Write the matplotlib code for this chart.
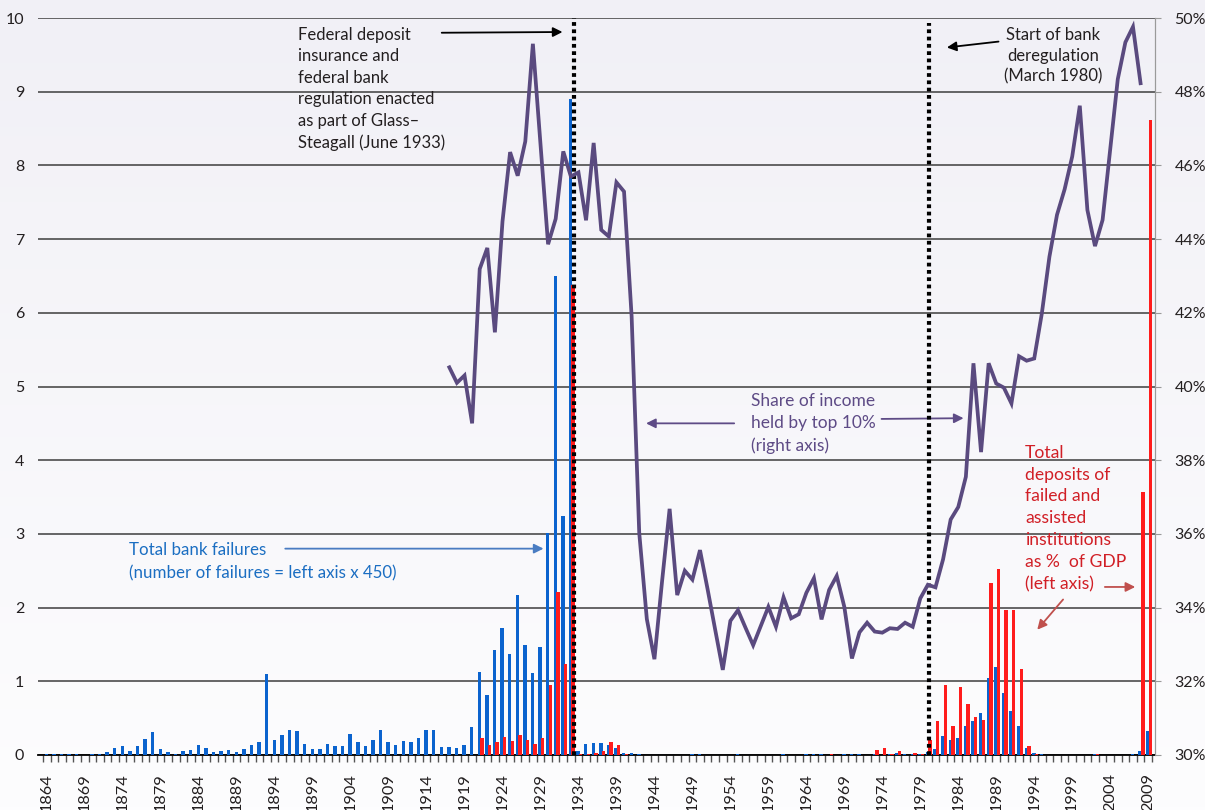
import numpy as np
import matplotlib
matplotlib.use('Agg')
import matplotlib.pyplot as plt
from matplotlib.colors import LinearSegmentedColormap

# years on the category axis
years = list(range(1864, 2010))

# total bank failures, in left axis units (number of failures / 450)
failures = [
    0.01, 0.01, 0.01, 0.02, 0.01, 0.005, 0.01, 0.02, 0.04, 0.09,      # 1864-1873
    0.12, 0.06, 0.12, 0.22, 0.31, 0.08, 0.04, 0.02, 0.05, 0.07,       # 1874-1883
    0.14, 0.10, 0.04, 0.05, 0.07, 0.04, 0.08, 0.14, 0.18, 1.10,       # 1884-1893
    0.20, 0.27, 0.34, 0.32, 0.15, 0.08, 0.08, 0.15, 0.12, 0.12,       # 1894-1903
    0.28, 0.17, 0.12, 0.20, 0.34, 0.17, 0.14, 0.19, 0.17, 0.235,      # 1904-1913
    0.34, 0.34, 0.11, 0.11, 0.10, 0.14, 0.375, 1.12, 0.81, 1.43,      # 1914-1923
    1.72, 1.37, 2.17, 1.49, 1.11, 1.47, 3.01, 6.50, 3.24, 8.90,       # 1924-1933
    0.05, 0.15, 0.16, 0.16, 0.13, 0.09, 0.03, 0.03, 0.01, 0.005,      # 1934-1943
    0.005, 0.002, 0.005, 0.005, 0.005, 0.01, 0.01, 0.005, 0.005, 0.005,  # 1944-1953
    0.005, 0.01, 0.005, 0.005, 0.005, 0.005, 0.005, 0.01, 0.005, 0.005,  # 1954-1963
    0.01, 0.01, 0.01, 0.005, 0.005, 0.01, 0.01, 0.01, 0.002, 0.01,    # 1964-1973
    0.005, 0.02, 0.03, 0.01, 0.01, 0.02, 0.04, 0.08, 0.26, 0.21,      # 1974-1983
    0.23, 0.40, 0.455, 0.575, 1.04, 1.19, 0.84, 0.595, 0.40, 0.10,    # 1984-1993
    0.03, 0.01, 0.005, 0.002, 0.005, 0.005, 0.005, 0.005, 0.01, 0.005,   # 1994-2003
    0.005, 0.0, 0.0, 0.01, 0.06, 0.32,                                # 2004-2009
]

# total deposits of failed and assisted institutions, % of GDP (left axis)
deposits = [0.0] * 57 + [
    0.235, 0.13, 0.18, 0.245, 0.185, 0.27, 0.21, 0.15, 0.23,           # 1921-1929
    0.955, 2.21, 1.24, 6.38, 0.01, 0.02, 0.03, 0.06, 0.17, 0.14,       # 1930-1939
    0.01, 0.005, 0.003, 0.003, 0.003, 0.002, 0.003, 0.003, 0.003, 0.003,  # 1940-1949
    0.003, 0.003, 0.003, 0.003, 0.003, 0.003, 0.003, 0.003, 0.003, 0.003,  # 1950-1959
    0.003, 0.003, 0.003, 0.003, 0.003, 0.003, 0.003, 0.01, 0.003, 0.003,  # 1960-1969
    0.003, 0.003, 0.003, 0.065, 0.10, 0.01, 0.055, 0.005, 0.03, 0.02,  # 1970-1979
    0.21, 0.455, 0.955, 0.40, 0.92, 0.69, 0.52, 0.48, 2.33, 2.52,      # 1980-1989
    1.97, 1.97, 1.17, 0.12, 0.01, 0.005, 0.003, 0.003, 0.003, 0.005,   # 1990-1999
    0.003, 0.005, 0.01, 0.003, 0.003, 0.002, 0.002, 0.005, 3.57, 8.61,  # 2000-2009
]

# share of income held by top 10%, % (right axis)
share_years = list(range(1917, 2009))
top10_share = [
    40.52, 40.10, 40.30, 39.00, 43.19, 43.76, 41.47, 44.48, 46.36, 45.72,  # 1917-1926
    46.65, 49.30, 46.58, 43.86, 44.55, 46.38, 45.70, 45.81, 44.51, 46.61,  # 1927-1936
    44.25, 44.07, 45.54, 45.29, 41.90, 36.03, 33.69, 32.60, 34.70, 36.68,  # 1937-1946
    34.34, 35.00, 34.76, 35.56, 34.50, 33.40, 32.31, 33.64, 33.93, 33.45,  # 1947-1956
    32.98, 33.50, 34.02, 33.48, 34.28, 33.71, 33.82, 34.40, 34.80, 33.68,  # 1957-1966
    34.48, 34.86, 34.02, 32.62, 33.33, 33.59, 33.35, 33.32, 33.44, 33.42,  # 1967-1976
    33.59, 33.48, 34.25, 34.62, 34.55, 35.31, 36.39, 36.73, 37.55, 40.63,  # 1977-1986
    38.22, 40.63, 40.08, 39.97, 39.54, 40.82, 40.70, 40.76, 41.98, 43.52,  # 1987-1996
    44.66, 45.35, 46.24, 47.62, 44.79, 43.81, 44.52, 46.43, 48.34, 49.34,  # 1997-2006
    49.76, 48.23,                                                          # 2007-2008
]

BLUE = '#0b63ce'
RED = '#ff1c1c'
PURPLE = '#5a4a7f'
TEXT = '#231f20'

plt.rcParams['font.family'] = ['Lato', 'DejaVu Sans']

fig = plt.figure(figsize=(12.05, 8.10), dpi=100)

# soft background gradient
bg = fig.add_axes([0, 0, 1, 1], zorder=-10)
grad = np.linspace(0, 1, 256).reshape(-1, 1)
bg.imshow(grad, aspect='auto', extent=[0, 1, 0, 1],
          cmap=LinearSegmentedColormap.from_list('bg', ['#f1f0f6', '#fdfdfe']))
bg.axis('off')

ax = fig.add_axes([38 / 1205, 1 - 755 / 810, (1155 - 38) / 1205, (755 - 18) / 810])
ax.patch.set_alpha(0)

x = np.arange(len(years))
ax.bar(x - 0.05, failures, width=0.45, color=BLUE, zorder=3)
ax.bar(x + 0.3, deposits, width=0.45, color=RED, zorder=4)

ax.set_xlim(-1.15, 145.9)
ax.set_ylim(0, 10)
ax.set_yticks(range(0, 11))
ax.grid(axis='y', color='#3d3d3d', lw=1.1, zorder=1)
ax.tick_params(axis='y', length=0, pad=10, labelsize=11.5, labelcolor=TEXT)

ax.set_xticks(x[::5])
ax.set_xticklabels([str(y) for y in years[::5]], rotation=90)
ax.set_xticks(np.arange(len(years) + 1) - 0.5, minor=True)
ax.tick_params(axis='x', which='major', length=0, pad=13, labelsize=11.8, labelcolor=TEXT)
ax.tick_params(axis='x', which='minor', length=5, width=1, color='#555555')

for s in ['top', 'left']:
    ax.spines[s].set_visible(False)
ax.spines['bottom'].set_color('black')
ax.spines['bottom'].set_linewidth(1.3)
ax.spines['right'].set_color('#9a9a9a')

# policy dates
ax.plot([69.4, 69.4], [0, 10], color='black', lw=3, ls=(0, (0.9, 0.85)), zorder=6)
ax.plot([116.1, 116.1], [0, 9.93], color='black', lw=3, ls=(0, (0.9, 0.85)), zorder=6)

# income share on the right axis
ax2 = ax.twinx()
ax2.set_ylim(30, 50)
ax2.set_yticks(range(30, 51, 2))
ax2.set_yticklabels(['{}%'.format(v) for v in range(30, 51, 2)])
ax2.tick_params(axis='y', length=4, color='#9a9a9a', pad=10, labelsize=11.5, labelcolor=TEXT)
for s in ['top', 'left', 'bottom']:
    ax2.spines[s].set_visible(False)
ax2.spines['right'].set_color('#9a9a9a')
sx = [years.index(y) for y in share_years]
ax2.plot(sx, top10_share, color=PURPLE, lw=2.7, solid_joinstyle='miter', zorder=5)


def arrow(x0, y0, x1, y1, color, lw=1.3):
    ax.annotate('', xy=(x1, y1), xytext=(x0, y0),
                arrowprops=dict(arrowstyle='-|>', color=color, lw=lw,
                                mutation_scale=14, shrinkA=0, shrinkB=0))


ax.text(33.1, 9.88, 'Federal deposit\ninsurance and\nfederal bank\nregulation enacted\n'
        'as part of Glass\u2013\nSteagall (June 1933)',
        ha='left', va='top', fontsize=12, linespacing=1.42, color=TEXT)
arrow(52.0, 9.80, 67.9, 9.81, 'black')

ax.text(132.5, 9.88, 'Start of bank\nderegulation\n(March 1980)',
        ha='center', va='top', multialignment='center', fontsize=12,
        linespacing=1.38, color=TEXT)
arrow(125.3, 9.68, 118.5, 9.60, 'black')

ax.text(92.7, 4.91, 'Share of income\nheld by top 10%\n(right axis)',
        ha='left', va='top', fontsize=12.5, linespacing=1.45, color='#5e4b86')
arrow(90.5, 4.50, 78.9, 4.50, '#5e4b86')
arrow(109.9, 4.56, 120.7, 4.57, '#5e4b86')

ax.text(10.83, 2.89, 'Total bank failures\n(number of failures = left axis x 450)',
        ha='left', va='top', fontsize=12.2, linespacing=1.55, color='#1b6ec2')
arrow(31.4, 2.80, 65.4, 2.80, '#4a7cc2')

ax.text(128.8, 4.21, 'Total\ndeposits of\nfailed and\nassisted\ninstitutions\nas %  of GDP\n(left axis)',
        ha='left', va='top', fontsize=12.6, linespacing=1.45, color='#d11f26')
arrow(139.3, 2.28, 143.3, 2.28, '#c0504d')
arrow(133.8, 2.11, 130.4, 1.70, '#c0504d')

fig.savefig('out.png', dpi=100)
